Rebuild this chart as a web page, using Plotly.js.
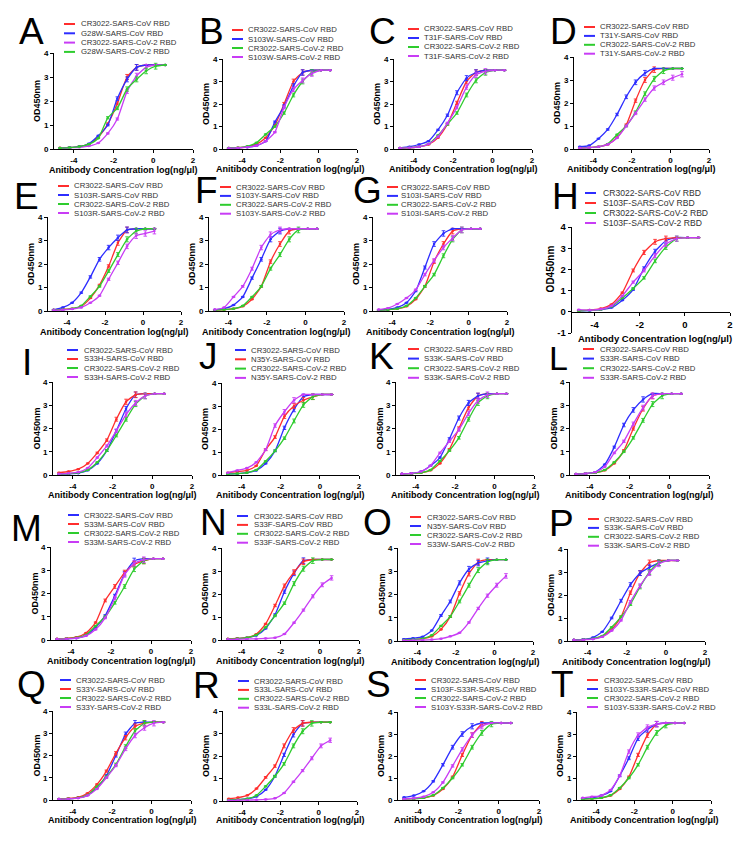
<!DOCTYPE html>
<html><head><meta charset="utf-8">
<script src="https://cdn.plot.ly/plotly-3.0.1.min.js"></script>
<style>body{margin:0;background:#fff}#chart{width:740px;height:852px}</style>
</head><body><div id="chart"></div><script>
// ---------- DATA ----------
const conc = [-4.7,-4.22,-3.73,-3.25,-2.77,-2.29,-1.81,-1.32,-0.84,-0.36,0.12,0.6];
const xTickVals = [-4,-2,0,2];
const xTickText = ['-4','-2','0','2'];
const yTickVals = [0,1,2,3,4];
const yTickValsH = [-1,0,1,2,3,4];
const yTickTextH = ['-1','0','1','2','3','4'];
const xTitle = 'Anitibody Concentration log(ng/μl)';
const xTitleH = 'Antibody Concentration log(ng/μl)';
const yTitle = 'OD450nm';

const A_names = ['CR3022-SARS-CoV RBD','G28W-SARS-CoV RBD','CR3022-SARS-CoV-2 RBD','G28W-SARS-CoV-2 RBD'];
const A_values = [
 [0.05,0.06,0.10,0.20,0.50,1.05,1.90,3.00,3.40,3.50,3.50,3.50],
 [0.04,0.06,0.10,0.22,0.55,1.00,2.10,2.90,3.40,3.50,3.50,3.50],
 [0.03,0.05,0.07,0.12,0.25,0.65,1.25,2.40,3.05,3.40,3.50,3.50],
 [0.04,0.06,0.10,0.20,0.45,1.30,1.70,2.50,2.90,3.25,3.45,3.50]];
const B_names = ['CR3022-SARS-CoV RBD','S103W-SARS-CoV RBD','CR3022-SARS-CoV-2 RBD','S103W-SARS-CoV-2 RBD'];
const B_values = [
 [0.04,0.06,0.10,0.22,0.50,1.05,2.00,3.00,3.40,3.50,3.50,3.50],
 [0.04,0.05,0.08,0.15,0.35,1.20,1.90,2.80,3.40,3.50,3.50,3.50],
 [0.04,0.06,0.12,0.28,0.65,1.00,1.60,2.40,3.00,3.40,3.50,3.50],
 [0.03,0.05,0.08,0.15,0.35,0.75,1.85,2.65,3.05,3.35,3.50,3.50]];
const C_names = ['CR3022-SARS-CoV RBD','T31F-SARS-CoV RBD','CR3022-SARS-CoV-2 RBD','T31F-SARS-CoV-2 RBD'];
const C_values = [
 [0.04,0.06,0.10,0.20,0.50,1.10,2.05,3.00,3.40,3.50,3.50,3.50],
 [0.05,0.10,0.20,0.35,0.85,1.50,2.50,3.15,3.40,3.50,3.50,3.50],
 [0.04,0.06,0.10,0.22,0.60,1.10,1.60,2.40,3.05,3.40,3.50,3.50],
 [0.04,0.06,0.10,0.22,0.55,1.15,1.85,2.75,3.30,3.45,3.50,3.50]];
const D_names = ['CR3022-SARS-CoV RBD','T31Y-SARS-CoV RBD','CR3022-SARS-CoV-2 RBD','T31Y-SARS-CoV-2 RBD'];
const D_values = [
 [0.05,0.06,0.10,0.20,0.50,1.05,2.10,3.00,3.45,3.50,3.50,3.50],
 [0.10,0.15,0.45,0.85,1.50,2.27,2.90,3.30,3.50,3.50,3.50,3.50],
 [0.04,0.06,0.10,0.22,0.62,1.00,1.60,2.40,3.05,3.40,3.50,3.50],
 [0.04,0.06,0.10,0.20,0.48,1.00,1.55,2.15,2.65,2.90,3.10,3.25]];
const E_names = ['CR3022-SARS-CoV RBD','S103R-SARS-CoV RBD','CR3022-SARS-CoV-2 RBD','S103R-SARS-CoV-2 RBD'];
const E_values = [
 [0.05,0.07,0.10,0.20,0.55,1.10,1.90,2.90,3.45,3.50,3.50,3.50],
 [0.05,0.15,0.35,0.78,1.45,2.20,2.70,3.12,3.45,3.50,3.50,3.50],
 [0.04,0.06,0.10,0.22,0.62,1.05,1.70,2.40,3.05,3.40,3.50,3.50],
 [0.03,0.05,0.08,0.15,0.35,0.65,1.35,2.05,2.75,3.20,3.30,3.40]];
const F_names = ['CR3022-SARS-CoV RBD','S103Y-SARS-CoV RBD','CR3022-SARS-CoV-2 RBD','S103Y-SARS-CoV-2 RBD'];
const F_values = [
 [0.04,0.06,0.10,0.20,0.50,1.05,2.10,2.85,3.40,3.50,3.50,3.50],
 [0.05,0.10,0.25,0.60,1.40,2.20,3.05,3.40,3.50,3.50,3.50,3.50],
 [0.04,0.06,0.10,0.22,0.60,1.05,1.80,2.40,3.05,3.45,3.50,3.50],
 [0.06,0.15,0.60,1.05,1.80,2.70,3.25,3.45,3.50,3.50,3.50,3.50]];
const G_names = ['CR3022-SARS-CoV RBD','S103I-SARS-CoV RBD','CR3022-SARS-CoV-2 RBD','S103I-SARS-CoV-2 RBD'];
const G_values = [
 [0.04,0.06,0.10,0.20,0.50,1.05,2.10,2.85,3.40,3.50,3.50,3.50],
 [0.04,0.07,0.15,0.35,0.85,1.85,2.85,3.30,3.50,3.50,3.50,3.50],
 [0.04,0.06,0.10,0.22,0.55,1.05,1.55,2.35,3.05,3.45,3.50,3.50],
 [0.06,0.12,0.30,0.55,0.90,1.55,2.15,2.70,3.10,3.45,3.50,3.50]];
const H_names = ['CR3022-SARS-CoV RBD','S103F-SARS-CoV RBD','CR3022-SARS-CoV-2 RBD','S103F-SARS-CoV-2 RBD'];
const H_values = [
 [0.05,0.06,0.10,0.20,0.55,1.05,2.05,2.85,3.35,3.50,3.50,3.50],
 [0.06,0.08,0.15,0.35,0.90,1.95,2.80,3.30,3.45,3.50,3.50,3.50],
 [0.05,0.07,0.10,0.25,0.65,1.10,1.60,2.40,3.05,3.45,3.50,3.50],
 [0.10,0.08,0.12,0.28,0.75,1.40,1.95,2.65,3.20,3.45,3.50,3.50]];
const I_names = ['CR3022-SARS-CoV RBD','S33H-SARS-CoV RBD','CR3022-SARS-CoV-2 RBD','S33H-SARS-CoV-2 RBD'];
const I_values = [
 [0.04,0.05,0.08,0.20,0.50,1.05,1.90,2.85,3.45,3.50,3.50,3.50],
 [0.10,0.15,0.25,0.50,0.95,1.50,2.40,3.15,3.45,3.50,3.50,3.50],
 [0.04,0.06,0.10,0.22,0.55,1.05,1.70,2.40,3.05,3.40,3.50,3.50],
 [0.05,0.07,0.12,0.30,0.75,1.25,1.90,2.60,3.10,3.40,3.50,3.50]];
const J_names = ['CR3022-SARS-CoV RBD','N35Y-SARS-CoV RBD','CR3022-SARS-CoV-2 RBD','N35Y-SARS-CoV-2 RBD'];
const J_values = [
 [0.05,0.06,0.10,0.20,0.50,1.05,2.05,2.85,3.40,3.50,3.50,3.50],
 [0.10,0.15,0.20,0.40,1.10,1.65,2.55,3.00,3.25,3.40,3.50,3.50],
 [0.04,0.06,0.10,0.22,0.60,1.05,1.60,2.35,3.05,3.40,3.50,3.50],
 [0.10,0.20,0.30,0.55,1.10,2.15,2.75,3.25,3.50,3.50,3.50,3.50]];
const K_names = ['CR3022-SARS-CoV RBD','S33K-SARS-CoV RBD','CR3022-SARS-CoV-2 RBD','S33K-SARS-CoV-2 RBD'];
const K_values = [
 [0.05,0.06,0.10,0.20,0.50,1.10,2.00,2.90,3.40,3.50,3.50,3.50],
 [0.05,0.07,0.15,0.40,0.75,1.55,2.45,3.10,3.40,3.50,3.50,3.50],
 [0.04,0.06,0.10,0.22,0.60,1.05,1.60,2.40,3.10,3.40,3.50,3.50],
 [0.05,0.07,0.15,0.40,0.95,1.45,1.95,2.65,3.20,3.45,3.50,3.50]];
const L_names = ['CR3022-SARS-CoV RBD','S33R-SARS-CoV RBD','CR3022-SARS-CoV-2 RBD','S33R-SARS-CoV-2 RBD'];
const L_values = [
 [0.04,0.06,0.10,0.20,0.50,1.05,2.00,2.85,3.40,3.50,3.50,3.50],
 [0.04,0.06,0.12,0.45,1.20,2.15,2.80,3.25,3.50,3.50,3.50,3.50],
 [0.04,0.06,0.10,0.22,0.55,1.00,1.60,2.35,3.05,3.40,3.50,3.50],
 [0.04,0.06,0.12,0.35,0.95,1.45,2.20,2.90,3.40,3.50,3.50,3.50]];
const M_names = ['CR3022-SARS-CoV RBD','S33M-SARS-CoV RBD','CR3022-SARS-CoV-2 RBD','S33M-SARS-CoV-2 RBD'];
const M_values = [
 [0.04,0.05,0.08,0.20,0.55,1.05,1.90,2.85,3.40,3.50,3.50,3.50],
 [0.05,0.07,0.12,0.30,0.75,1.70,2.30,2.90,3.25,3.40,3.50,3.50],
 [0.04,0.06,0.10,0.22,0.60,1.00,1.60,2.30,3.05,3.40,3.50,3.50],
 [0.04,0.05,0.08,0.18,0.45,0.95,1.80,2.80,3.30,3.45,3.50,3.50]];
const N_names = ['CR3022-SARS-CoV RBD','S33F-SARS-CoV RBD','CR3022-SARS-CoV-2 RBD','S33F-SARS-CoV-2 RBD'];
const N_values = [
 [0.04,0.06,0.10,0.20,0.50,1.10,2.10,2.90,3.45,3.50,3.50,3.50],
 [0.05,0.07,0.10,0.25,0.70,1.50,2.35,2.95,3.40,3.50,3.50,3.50],
 [0.04,0.06,0.10,0.22,0.55,1.05,1.60,2.45,3.10,3.45,3.50,3.50],
 [0.03,0.03,0.04,0.05,0.07,0.10,0.26,0.75,1.30,1.90,2.40,2.70]];
const O_names = ['CR3022-SARS-CoV RBD','N35Y-SARS-CoV RBD','CR3022-SARS-CoV-2 RBD','S33W-SARS-CoV-2 RBD'];
const O_values = [
 [0.05,0.06,0.10,0.20,0.50,1.05,2.05,2.90,3.40,3.50,3.50,3.50],
 [0.08,0.12,0.18,0.45,1.10,1.70,2.50,3.10,3.35,3.45,3.50,3.50],
 [0.04,0.06,0.10,0.25,0.65,1.05,1.70,2.40,3.05,3.40,3.50,3.50],
 [0.02,0.03,0.04,0.06,0.10,0.20,0.35,0.80,1.40,1.95,2.40,2.80]];
const P_names = ['CR3022-SARS-CoV RBD','S33K-SARS-CoV RBD','CR3022-SARS-CoV-2 RBD','S33K-SARS-CoV-2 RBD'];
const P_values = [
 [0.05,0.06,0.10,0.20,0.50,1.05,2.10,2.95,3.40,3.50,3.50,3.50],
 [0.05,0.07,0.15,0.40,1.00,1.75,2.45,2.95,3.20,3.40,3.50,3.50],
 [0.04,0.06,0.10,0.22,0.60,1.05,1.60,2.35,3.00,3.40,3.50,3.50],
 [0.04,0.05,0.08,0.18,0.45,0.90,1.70,2.40,2.95,3.35,3.50,3.50]];
const Q_names = ['CR3022-SARS-CoV RBD','S33Y-SARS-CoV RBD','CR3022-SARS-CoV-2 RBD','S33Y-SARS-CoV-2 RBD'];
const Q_values = [
 [0.04,0.06,0.10,0.22,0.55,1.10,2.00,2.95,3.45,3.50,3.50,3.50],
 [0.05,0.07,0.12,0.30,0.70,1.30,2.10,2.80,3.30,3.45,3.50,3.50],
 [0.04,0.06,0.10,0.22,0.60,1.05,1.60,2.40,3.10,3.45,3.50,3.50],
 [0.04,0.05,0.08,0.20,0.50,1.00,1.55,2.30,2.90,3.25,3.45,3.50]];
const R_names = ['CR3022-SARS-CoV RBD','S33L-SARS-CoV RBD','CR3022-SARS-CoV-2 RBD','S33L-SARS-CoV-2 RBD'];
const R_values = [
 [0.05,0.06,0.10,0.20,0.50,1.10,2.05,2.95,3.45,3.50,3.50,3.50],
 [0.10,0.15,0.25,0.55,1.05,1.55,2.45,3.15,3.45,3.50,3.50,3.50],
 [0.04,0.06,0.10,0.25,0.65,1.10,1.65,2.45,3.10,3.45,3.50,3.50],
 [0.02,0.03,0.04,0.05,0.07,0.12,0.35,0.85,1.35,1.90,2.45,2.70]];
const S_names = ['CR3022-SARS-CoV RBD','S103F-S33R-SARS-CoV RBD','CR3022-SARS-CoV-2 RBD','S103Y-S33R-SARS-CoV-2 RBD'];
const S_values = [
 [0.05,0.06,0.10,0.20,0.50,1.05,2.05,2.95,3.45,3.50,3.50,3.50],
 [0.12,0.20,0.40,0.85,1.60,2.40,3.00,3.35,3.50,3.50,3.50,3.50],
 [0.04,0.06,0.10,0.22,0.55,1.00,1.60,2.40,3.05,3.45,3.50,3.50],
 [0.05,0.08,0.15,0.35,0.80,1.55,2.30,2.95,3.35,3.50,3.50,3.50]];
const T_names = ['CR3022-SARS-CoV RBD','S103Y-S33R-SARS-CoV RBD','CR3022-SARS-CoV-2 RBD','S103Y-S33R-SARS-CoV-2 RBD'];
const T_values = [
 [0.05,0.06,0.10,0.20,0.50,1.05,2.05,2.95,3.45,3.50,3.50,3.50],
 [0.06,0.10,0.20,0.40,1.10,1.90,2.80,3.20,3.45,3.50,3.50,3.50],
 [0.04,0.06,0.10,0.22,0.55,1.00,1.60,2.40,3.05,3.40,3.50,3.50],
 [0.10,0.15,0.20,0.45,1.10,2.20,2.95,3.30,3.45,3.50,3.50,3.50]];

// ---------- STYLE / PLACEMENT ----------
const RED='#ff2d2d', BLUE='#2d2dff', GREEN='#2ecc2e', MAG='#c83cf5';
const W=740, H=852;
const NARROW = '"Liberation Sans Narrow","Arial Narrow","Liberation Sans",Arial,sans-serif';
const SANS = '"Liberation Sans",Arial,sans-serif';
// box: [x0, x1, y(top), y(bottom)] px; leg: [line x, text x, first row y, row gap]; letter: [x, yc, size]; xt: x-title y
const panels = [
 {id:'A',names:A_names,values:A_values,colors:[RED,BLUE,MAG,GREEN],box:[54,193,53,149],leg:[64,80,24,9.3],letter:[18,31,37],xt:170},
 {id:'B',names:B_names,values:B_values,colors:[RED,BLUE,GREEN,MAG],box:[223,357,59,149],leg:[232,247,30,9],letter:[198,31,37],xt:169},
 {id:'C',names:C_names,values:C_values,colors:[RED,BLUE,GREEN,MAG],box:[394,532,59,149],leg:[408,423,29,9],letter:[368,31,37],xt:169},
 {id:'D',names:D_names,values:D_values,colors:[RED,BLUE,GREEN,MAG],box:[574,709,57,149],leg:[584,599,27,8.9],letter:[549,31,37],xt:169},
 {id:'E',names:E_names,values:E_values,colors:[RED,BLUE,GREEN,MAG],box:[48,181,217,311],leg:[58,73,186,9],letter:[13,197,37],xt:332},
 {id:'F',names:F_names,values:F_values,colors:[RED,BLUE,GREEN,MAG],box:[209,344,217,311],leg:[220,235,187,8.9],letter:[194,191,37],xt:332},
 {id:'G',names:G_names,values:G_values,colors:[RED,BLUE,GREEN,MAG],box:[373,507,217,311],leg:[387,400,187,8.9],letter:[352,191,37],xt:332},
 {id:'H',names:H_names,values:H_values,colors:[BLUE,RED,GREEN,MAG],box:[572,730,227,333],leg:[585,602,193,10],letter:[551,197,37],xt:338},
 {id:'I',names:I_names,values:I_values,colors:[BLUE,RED,GREEN,MAG],box:[53,192,382,475],leg:[67,83,350,9],letter:[21,362,37],xt:495},
 {id:'J',names:J_names,values:J_values,colors:[BLUE,RED,GREEN,MAG],box:[222,359,383,475],leg:[235,250,350,9.3],letter:[198,356,37],xt:495},
 {id:'K',names:K_names,values:K_values,colors:[RED,BLUE,GREEN,MAG],box:[396,534,382,475],leg:[408,423,349,9.6],letter:[368,356,37],xt:495},
 {id:'L',names:L_names,values:L_values,colors:[RED,BLUE,GREEN,MAG],box:[570,709,382,475],leg:[583,599,349,9.6],letter:[548,358,34],xt:495},
 {id:'M',names:M_names,values:M_values,colors:[BLUE,RED,GREEN,MAG],box:[51,191,547,640],leg:[68,83,515,9],letter:[10,528,37],xt:661},
 {id:'N',names:N_names,values:N_values,colors:[BLUE,RED,GREEN,MAG],box:[222,359,548,640],leg:[237,253,516,8.9],letter:[199,522,37],xt:661},
 {id:'O',names:O_names,values:O_values,colors:[RED,BLUE,GREEN,MAG],box:[398,533,548,641],leg:[410,426,517,9],letter:[362,522,37],xt:662},
 {id:'P',names:P_names,values:P_values,colors:[RED,BLUE,GREEN,MAG],box:[568,705,549,641],leg:[588,603,519,8.9],letter:[548,523,37],xt:662},
 {id:'Q',names:Q_names,values:Q_values,colors:[BLUE,RED,GREEN,MAG],box:[53,191,711,800],leg:[60,75,680,9],letter:[16,684,37],xt:820},
 {id:'R',names:R_names,values:R_values,colors:[BLUE,RED,GREEN,MAG],box:[223,357,711,801],leg:[238,253,681,8.9],letter:[192,685,37],xt:820},
 {id:'S',names:S_names,values:S_values,colors:[RED,BLUE,GREEN,MAG],box:[398,539,712,800],leg:[415,430,680,9],letter:[365,684,37],xt:820},
 {id:'T',names:T_names,values:T_values,colors:[RED,BLUE,GREEN,MAG],box:[577,711,712,800],leg:[587,603,680,9],letter:[550,684,37],xt:820}
];

const px = v => v / W;
const py = v => 1 - v / H;
// error-bar size: a small fraction of the reading; saturated plateau points carry none
const errOf = v => (v >= 3.49 ? 0 : Math.max(0.015, 0.035 * v));
const traces = [], annotations = [], shapes = [];
const layout = {width:W, height:H, margin:{l:0,r:0,t:0,b:0}, paper_bgcolor:'#fff',
  plot_bgcolor:'rgba(0,0,0,0)', showlegend:false};

panels.forEach((p, i) => {
  const n = i + 1;
  const xa = n === 1 ? 'x' : 'x' + n, ya = n === 1 ? 'y' : 'y' + n;
  const isH = p.id === 'H';
  const [x0, x1, yt, yb] = p.box;
  p.values.forEach((vals, j) => {
    traces.push({type:'scatter', mode:'lines+markers', x:conc, y:vals, xaxis:xa, yaxis:ya,
      name:p.names[j], hoverinfo:'skip',
      line:{color:p.colors[j], width:1.3, shape:'spline', smoothing:0.55},
      marker:{size:2.5, color:p.colors[j]},
      error_y:{type:'data', array:vals.map(errOf), visible:true, thickness:0.9, width:1.8, color:p.colors[j]}});
  });
  const tf = {family:SANS, size:isH ? 9.5 : 8, color:'#000', weight:'bold'};
  const common = {showline:true, linecolor:'#000', linewidth:isH ? 1.4 : 1, ticks:'outside', ticklen:3,
    tickwidth:1, tickcolor:'#000', showgrid:false, zeroline:false, tickfont:tf, fixedrange:true};
  const xaxis = Object.assign({}, common, {domain:[px(x0), px(x1)], range:[-5, 2], tickmode:'array',
    tickvals:xTickVals, ticktext:xTickText});
  const yaxis = Object.assign({}, common, {domain:[py(yb), py(yt)], anchor:xa, tickmode:'array'});
  if (isH) {
    const yZero = yb - (yb - yt) / 5;
    xaxis.anchor = 'free';
    xaxis.position = py(yZero);
    yaxis.range = [-1, 4];
    yaxis.tickvals = yTickValsH; yaxis.ticktext = yTickTextH;
  } else {
    xaxis.anchor = ya;
    yaxis.range = [0, 4];
    yaxis.tickvals = yTickVals;
  }
  layout['xaxis' + (n === 1 ? '' : n)] = xaxis;
  layout['yaxis' + (n === 1 ? '' : n)] = yaxis;

  // panel letter
  annotations.push({text:p.id, x:px(p.letter[0]), y:py(p.letter[1]), xref:'paper', yref:'paper',
    xanchor:'left', yanchor:'middle', showarrow:false, borderpad:0,
    font:{family:SANS, size:p.letter[2], color:'#000'}});
  // axis titles
  annotations.push({text:isH ? xTitleH : xTitle, x:px((x0 + x1) / 2 + (isH ? 4 : 0)), y:py(p.xt), xref:'paper', yref:'paper',
    xanchor:'center', yanchor:'middle', showarrow:false, borderpad:0,
    font:{family:isH ? SANS : NARROW, size:isH ? 9.5 : 9, color:'#000', weight:'bold'}});
  annotations.push({text:yTitle, x:px(isH ? x0 - 22 : x0 - 17), y:py(isH ? yt + (yb - yt) * 0.4 : (yt + yb) / 2),
    xref:'paper', yref:'paper', xanchor:'center', yanchor:'middle', textangle:-90, showarrow:false, borderpad:0,
    font:{family:isH ? SANS : NARROW, size:isH ? 10 : 9, color:'#000', weight:'bold'}});
  // legend (drawn by hand: Plotly legends cannot be packed this tightly)
  const [lx, tx, r0, gap] = p.leg;
  p.names.forEach((nm, j) => {
    const ry = r0 + j * gap;
    shapes.push({type:'line', xref:'paper', yref:'paper', x0:px(lx), x1:px(lx + 11), y0:py(ry), y1:py(ry),
      line:{color:p.colors[j], width:2}});
    annotations.push({text:nm, x:px(tx), y:py(ry), xref:'paper', yref:'paper', xanchor:'left',
      yanchor:'middle', showarrow:false, borderpad:0,
      font:{family:SANS, size:isH ? 8.6 : 7.8, color:'#333'}});
  });
});
layout.annotations = annotations;
layout.shapes = shapes;
Plotly.newPlot('chart', traces, layout, {staticPlot:true, displayModeBar:false});
</script></body></html>
